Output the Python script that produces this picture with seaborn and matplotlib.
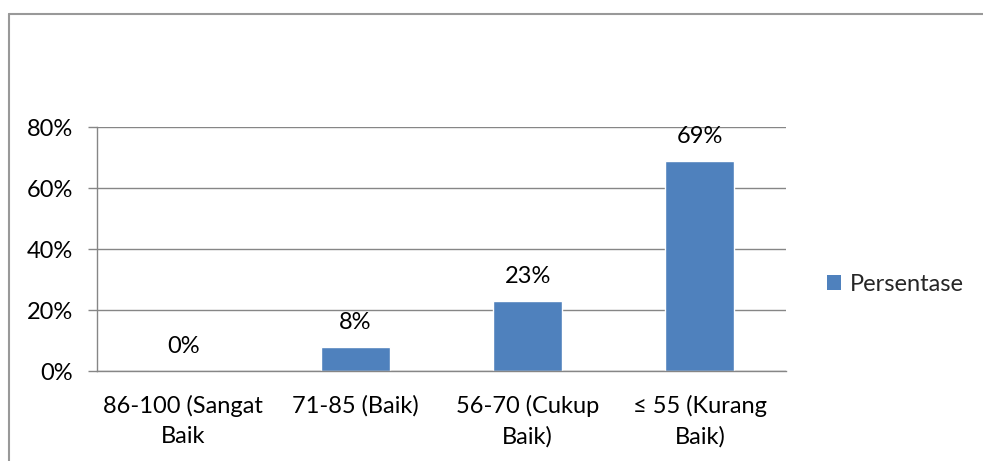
import matplotlib
matplotlib.use("Agg")
import matplotlib.pyplot as plt
import seaborn as sns
from matplotlib.patches import Patch
from matplotlib.lines import Line2D

categories = ["86-100 (Sangat\nBaik", "71-85 (Baik)", "56-70 (Cukup\nBaik)", "\u2264 55 (Kurang\nBaik)"]
values = [0.00, 0.08, 0.23, 0.69]
value_labels = ["0%", "8%", "23%", "69%"]
y_ticks = [0.0, 0.2, 0.4, 0.6, 0.8]
y_tick_labels = ["0%", "20%", "40%", "60%", "80%"]
series_name = "Persentase"

sns.set_style("white")
plt.rcParams["font.family"] = ["Lato", "DejaVu Sans"]

bar_color = "#4F81BD"
grid_color = "#868686"
fs = 17

fig = plt.figure(figsize=(9.83, 4.61), dpi=100)
ax = fig.add_axes([97 / 983, 1 - 371 / 461, (786 - 97) / 983, (371 - 127) / 461])

sns.barplot(x=list(range(len(categories))), y=values, color=bar_color, width=0.4,
            saturation=1, ax=ax, native_scale=True)

ax.set_xlim(-0.5, 3.5)
ax.set_ylim(0, 0.8)
ax.set_yticks(y_ticks)
ax.set_yticklabels(y_tick_labels, fontsize=fs, color="black")
ax.set_xticks(range(len(categories)))
ax.set_xticklabels(categories, fontsize=fs, color="black", linespacing=1.55)
ax.set_xticks([-0.5, 0.5, 1.5, 2.5, 3.5], minor=True)
ax.tick_params(axis="x", which="major", length=0, pad=17)
ax.tick_params(axis="x", which="minor", length=6.5, width=1, color=grid_color, direction="out")
ax.tick_params(axis="y", length=6.5, width=1, color=grid_color, direction="out", pad=11, left=True)
ax.grid(axis="y", color=grid_color, linewidth=1)
ax.set_axisbelow(True)
for side in ["top", "right"]:
    ax.spines[side].set_visible(False)
for side in ["left", "bottom"]:
    ax.spines[side].set_color(grid_color)
    ax.spines[side].set_linewidth(1)
ax.set_xlabel("")
ax.set_ylabel("")

for i, (v, lab) in enumerate(zip(values, value_labels)):
    ax.annotate(lab, (i, v), xytext=(0, 10), textcoords="offset points",
                ha="center", va="bottom", fontsize=fs, color="black")

handle = Patch(facecolor=bar_color, edgecolor="none")
fig.legend([handle], [series_name], loc="center left", bbox_to_anchor=(827 / 983, 1 - 284 / 461),
           frameon=False, fontsize=fs, handlelength=0.6, handleheight=0.6, handletextpad=0.35,
           borderaxespad=0, borderpad=0)

# outer chart frame (cropped at right and bottom)
fig.add_artist(Line2D([9 / 983, 1.01], [1 - 14 / 461, 1 - 14 / 461], color="#999999", lw=1.5,
                      transform=fig.transFigure))
fig.add_artist(Line2D([9 / 983, 9 / 983], [1 - 14 / 461, -0.01], color="#999999", lw=1.5,
                      transform=fig.transFigure))

fig.savefig("out.png", dpi=100)
